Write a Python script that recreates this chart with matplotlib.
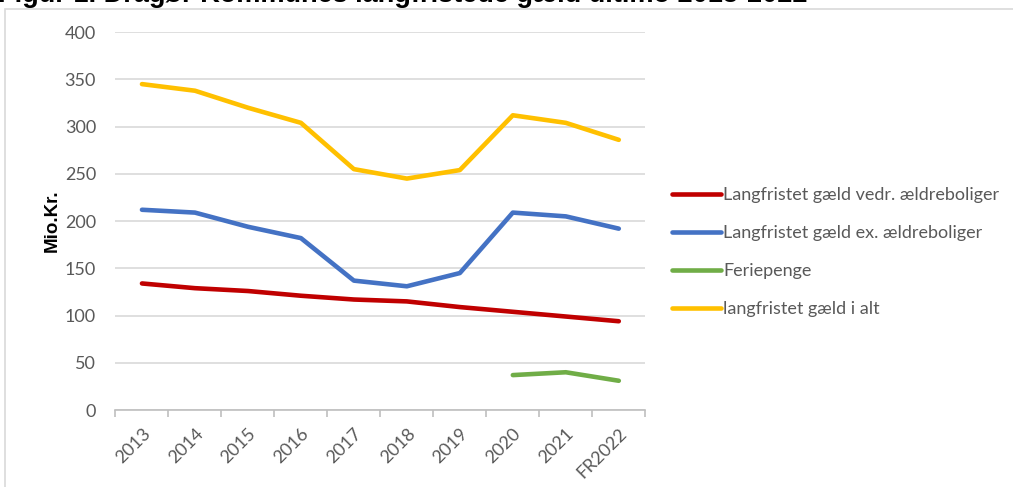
import numpy as np
import matplotlib.pyplot as plt
from matplotlib.patches import Rectangle

# Data
years = ['2013', '2014', '2015', '2016', '2017', '2018', '2019', '2020', '2021', 'FR2022']
aeldre = [134, 129, 126, 121, 117, 115, 109, 104, 99, 94]
ex_aeldre = [212, 209, 194, 182, 137, 131, 145, 209, 205, 192]
feriepenge = [np.nan, np.nan, np.nan, np.nan, np.nan, np.nan, np.nan, 37, 40, 31]
i_alt = [345, 338, 320, 304, 255, 245, 254, 312, 304, 286]

labels = ['Langfristet gæld vedr. ældreboliger', 'Langfristet gæld ex. ældreboliger',
          'Feriepenge', 'langfristet gæld i alt']
colors = ['#C00000', '#4472C4', '#70AD47', '#FFC000']

plt.rcParams['font.family'] = ['Lato', 'DejaVu Sans']
grey = '#595959'

fig = plt.figure(figsize=(10.13, 4.87), dpi=100)
ax = fig.add_axes([0.114, 0.158, 0.523, 0.776])

x = np.arange(len(years))
for s, lab, c in zip([aeldre, ex_aeldre, feriepenge, i_alt], labels, colors):
    ax.plot(x, s, color=c, linewidth=3.3, label=lab, solid_capstyle='round')

ax.set_xlim(-0.5, len(years) - 0.5)
ax.set_ylim(0, 400)
ax.set_yticks(np.arange(0, 401, 50))
ax.yaxis.grid(True, color='#D9D9D9', linewidth=1.2)
ax.set_axisbelow(True)
for sp in ['top', 'right', 'left']:
    ax.spines[sp].set_visible(False)
ax.spines['bottom'].set_color('#BFBFBF')
ax.spines['bottom'].set_linewidth(1.2)

ax.set_xticks(x)
ax.set_xticklabels(years, rotation=45, ha='right', rotation_mode='anchor')
ax.set_xticks(np.arange(-0.5, len(years)), minor=True)
ax.tick_params(axis='x', which='major', length=0, pad=11, labelsize=13, labelcolor=grey)
ax.tick_params(axis='x', which='minor', length=5, color='#BFBFBF', width=1.2)
ax.tick_params(axis='y', length=0, pad=14, labelsize=13, labelcolor=grey)

ax.set_ylabel('Mio.Kr.', fontsize=13.5, fontweight='bold', labelpad=3,
              family=['Liberation Sans', 'DejaVu Sans'])

leg = ax.legend(loc='center left', bbox_to_anchor=(1.019, 0.418), frameon=False,
                fontsize=13, labelcolor=grey, handlelength=2.75, handletextpad=0.12,
                labelspacing=1.22)

# outer frame
fig.patches.append(Rectangle((5 / 1013, -0.1), 1.2, 1.1 - 9 / 487, transform=fig.transFigure,
                             fill=False, edgecolor='#D9D9D9', linewidth=1.2))

# title, cut off at the top edge as in the source image
fig.text(-0.002, 1 - 2 / 487, 'Figur 1. Dragør Kommunes langfristede gæld ultimo 2013-2022',
         fontsize=19.5, fontweight='bold', va='baseline', ha='left',
         family=['Liberation Sans', 'DejaVu Sans'])

fig.savefig('out.png', dpi=100)
